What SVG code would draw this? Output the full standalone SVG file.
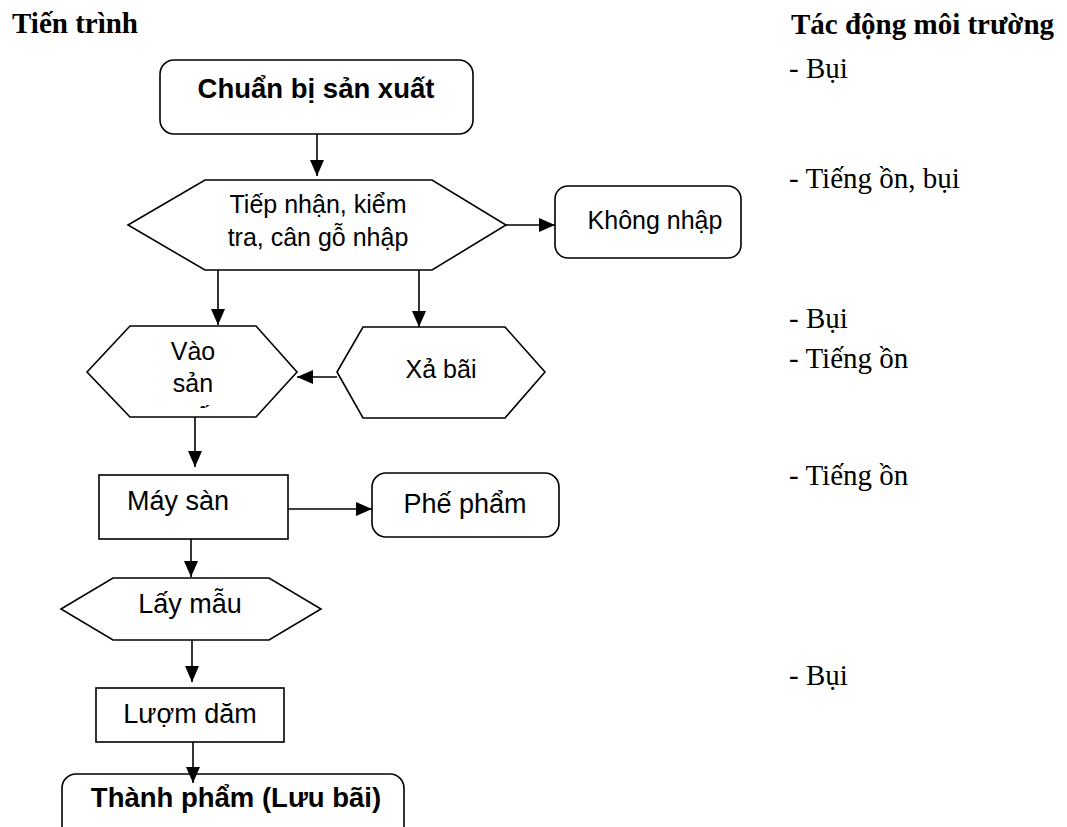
<svg xmlns="http://www.w3.org/2000/svg" width="1067" height="827" viewBox="0 0 1067 827">
<style>
.shape{fill:#fff;stroke:#000;stroke-width:1.6}
.conn{fill:none;stroke:#000;stroke-width:1.6}
.t{font-family:"Liberation Sans",Arial,sans-serif;font-size:25px;fill:#000;text-anchor:middle}
.tb{font-family:"Liberation Sans",Arial,sans-serif;font-size:27.5px;font-weight:bold;fill:#000;text-anchor:middle}
.big{font-size:27px}
.hd{font-family:"Liberation Serif","Times New Roman",serif;font-size:29px;font-weight:bold;fill:#000}
.rt{font-family:"Liberation Serif","Times New Roman",serif;font-size:29px;fill:#000}
</style>
<defs>
<marker id="ah" markerUnits="userSpaceOnUse" markerWidth="16" markerHeight="14" refX="16" refY="7" orient="auto">
<path d="M0,0 L16,7 L0,14 z" fill="#000"/>
</marker>
<clipPath id="clipVao"><rect x="87" y="326" width="210" height="82"/></clipPath>
</defs>
<rect width="1067" height="827" fill="#fff"/>

<g id="headings">
<text class="hd" x="12" y="33">Tiến trình</text>
<text class="hd" x="791" y="34">Tác động môi trường</text>
</g>

<g id="impacts">
<text class="rt" x="789" y="78">- Bụi</text>
<text class="rt" x="789" y="188">- Tiếng ồn, bụi</text>
<text class="rt" x="789" y="328">- Bụi</text>
<text class="rt" x="789" y="368">- Tiếng ồn</text>
<text class="rt" x="789" y="485">- Tiếng ồn</text>
<text class="rt" x="789" y="685">- Bụi</text>
</g>

<g id="connectors">
<line class="conn" x1="317" y1="134" x2="317" y2="176" marker-end="url(#ah)"/>
<line class="conn" x1="506" y1="225" x2="555" y2="225" marker-end="url(#ah)"/>
<line class="conn" x1="218" y1="270" x2="218" y2="325" marker-end="url(#ah)"/>
<line class="conn" x1="419" y1="270" x2="419" y2="327" marker-end="url(#ah)"/>
<line class="conn" x1="337" y1="377" x2="297" y2="377" marker-end="url(#ah)"/>
<line class="conn" x1="195" y1="417" x2="195" y2="467" marker-end="url(#ah)"/>
<line class="conn" x1="288" y1="509" x2="372" y2="509" marker-end="url(#ah)"/>
<line class="conn" x1="191" y1="539" x2="191" y2="577" marker-end="url(#ah)"/>
<line class="conn" x1="192" y1="640" x2="192" y2="682" marker-end="url(#ah)"/>
</g>

<g id="node-chuanbi">
<rect class="shape" x="160" y="60" width="313" height="74" rx="14"/>
<text class="tb" x="316" y="98">Chuẩn bị sản xuất</text>
</g>

<g id="node-tiepnhan">
<polygon class="shape" points="128,225 205,180 432,180 506,225 432,270 205,270"/>
<text class="t" x="318" y="213">Tiếp nhận, kiểm</text>
<text class="t" x="318" y="246">tra, cân gỗ nhập</text>
</g>

<g id="node-khongnhap">
<rect class="shape" x="555" y="186" width="186" height="72" rx="13"/>
<text class="t" x="655" y="229">Không nhập</text>
</g>

<g id="node-vaosanxuat">
<polygon class="shape" points="87,372 130,326 256,326 297,372 256,417 130,417"/>
<g clip-path="url(#clipVao)">
<text class="t" x="193" y="360">Vào</text>
<text class="t" x="193" y="392">sản</text>
<text class="t" x="193" y="425">xuất</text>
</g>
</g>

<g id="node-xabai">
<polygon class="shape" points="337,372 363,327 505,327 545,372 505,418 363,418"/>
<text class="t" x="441" y="378">Xả bãi</text>
</g>

<g id="node-maysan">
<rect class="shape" x="99" y="475" width="189" height="64"/>
<text class="t big" x="178" y="510">Máy sàn</text>
</g>

<g id="node-phepham">
<rect class="shape" x="372" y="473" width="187" height="64" rx="14"/>
<text class="t big" x="465" y="513">Phế phẩm</text>
</g>

<g id="node-laymau">
<polygon class="shape" points="61,609 113,578 269,578 321,609 269,640 113,640"/>
<text class="t big" x="190" y="613">Lấy mẫu</text>
</g>

<g id="node-luomdam">
<rect class="shape" x="96" y="688" width="188" height="54"/>
<text class="t big" x="190" y="723">Lượm dăm</text>
</g>

<g id="node-thanhpham">
<rect class="shape" x="62" y="774" width="342" height="80" rx="14"/>
<text class="tb" x="236" y="807">Thành phẩm (Lưu bãi)</text>
</g>

<g id="connectors-over">
<line class="conn" x1="193" y1="742" x2="193" y2="783" marker-end="url(#ah)"/>
</g>
</svg>
